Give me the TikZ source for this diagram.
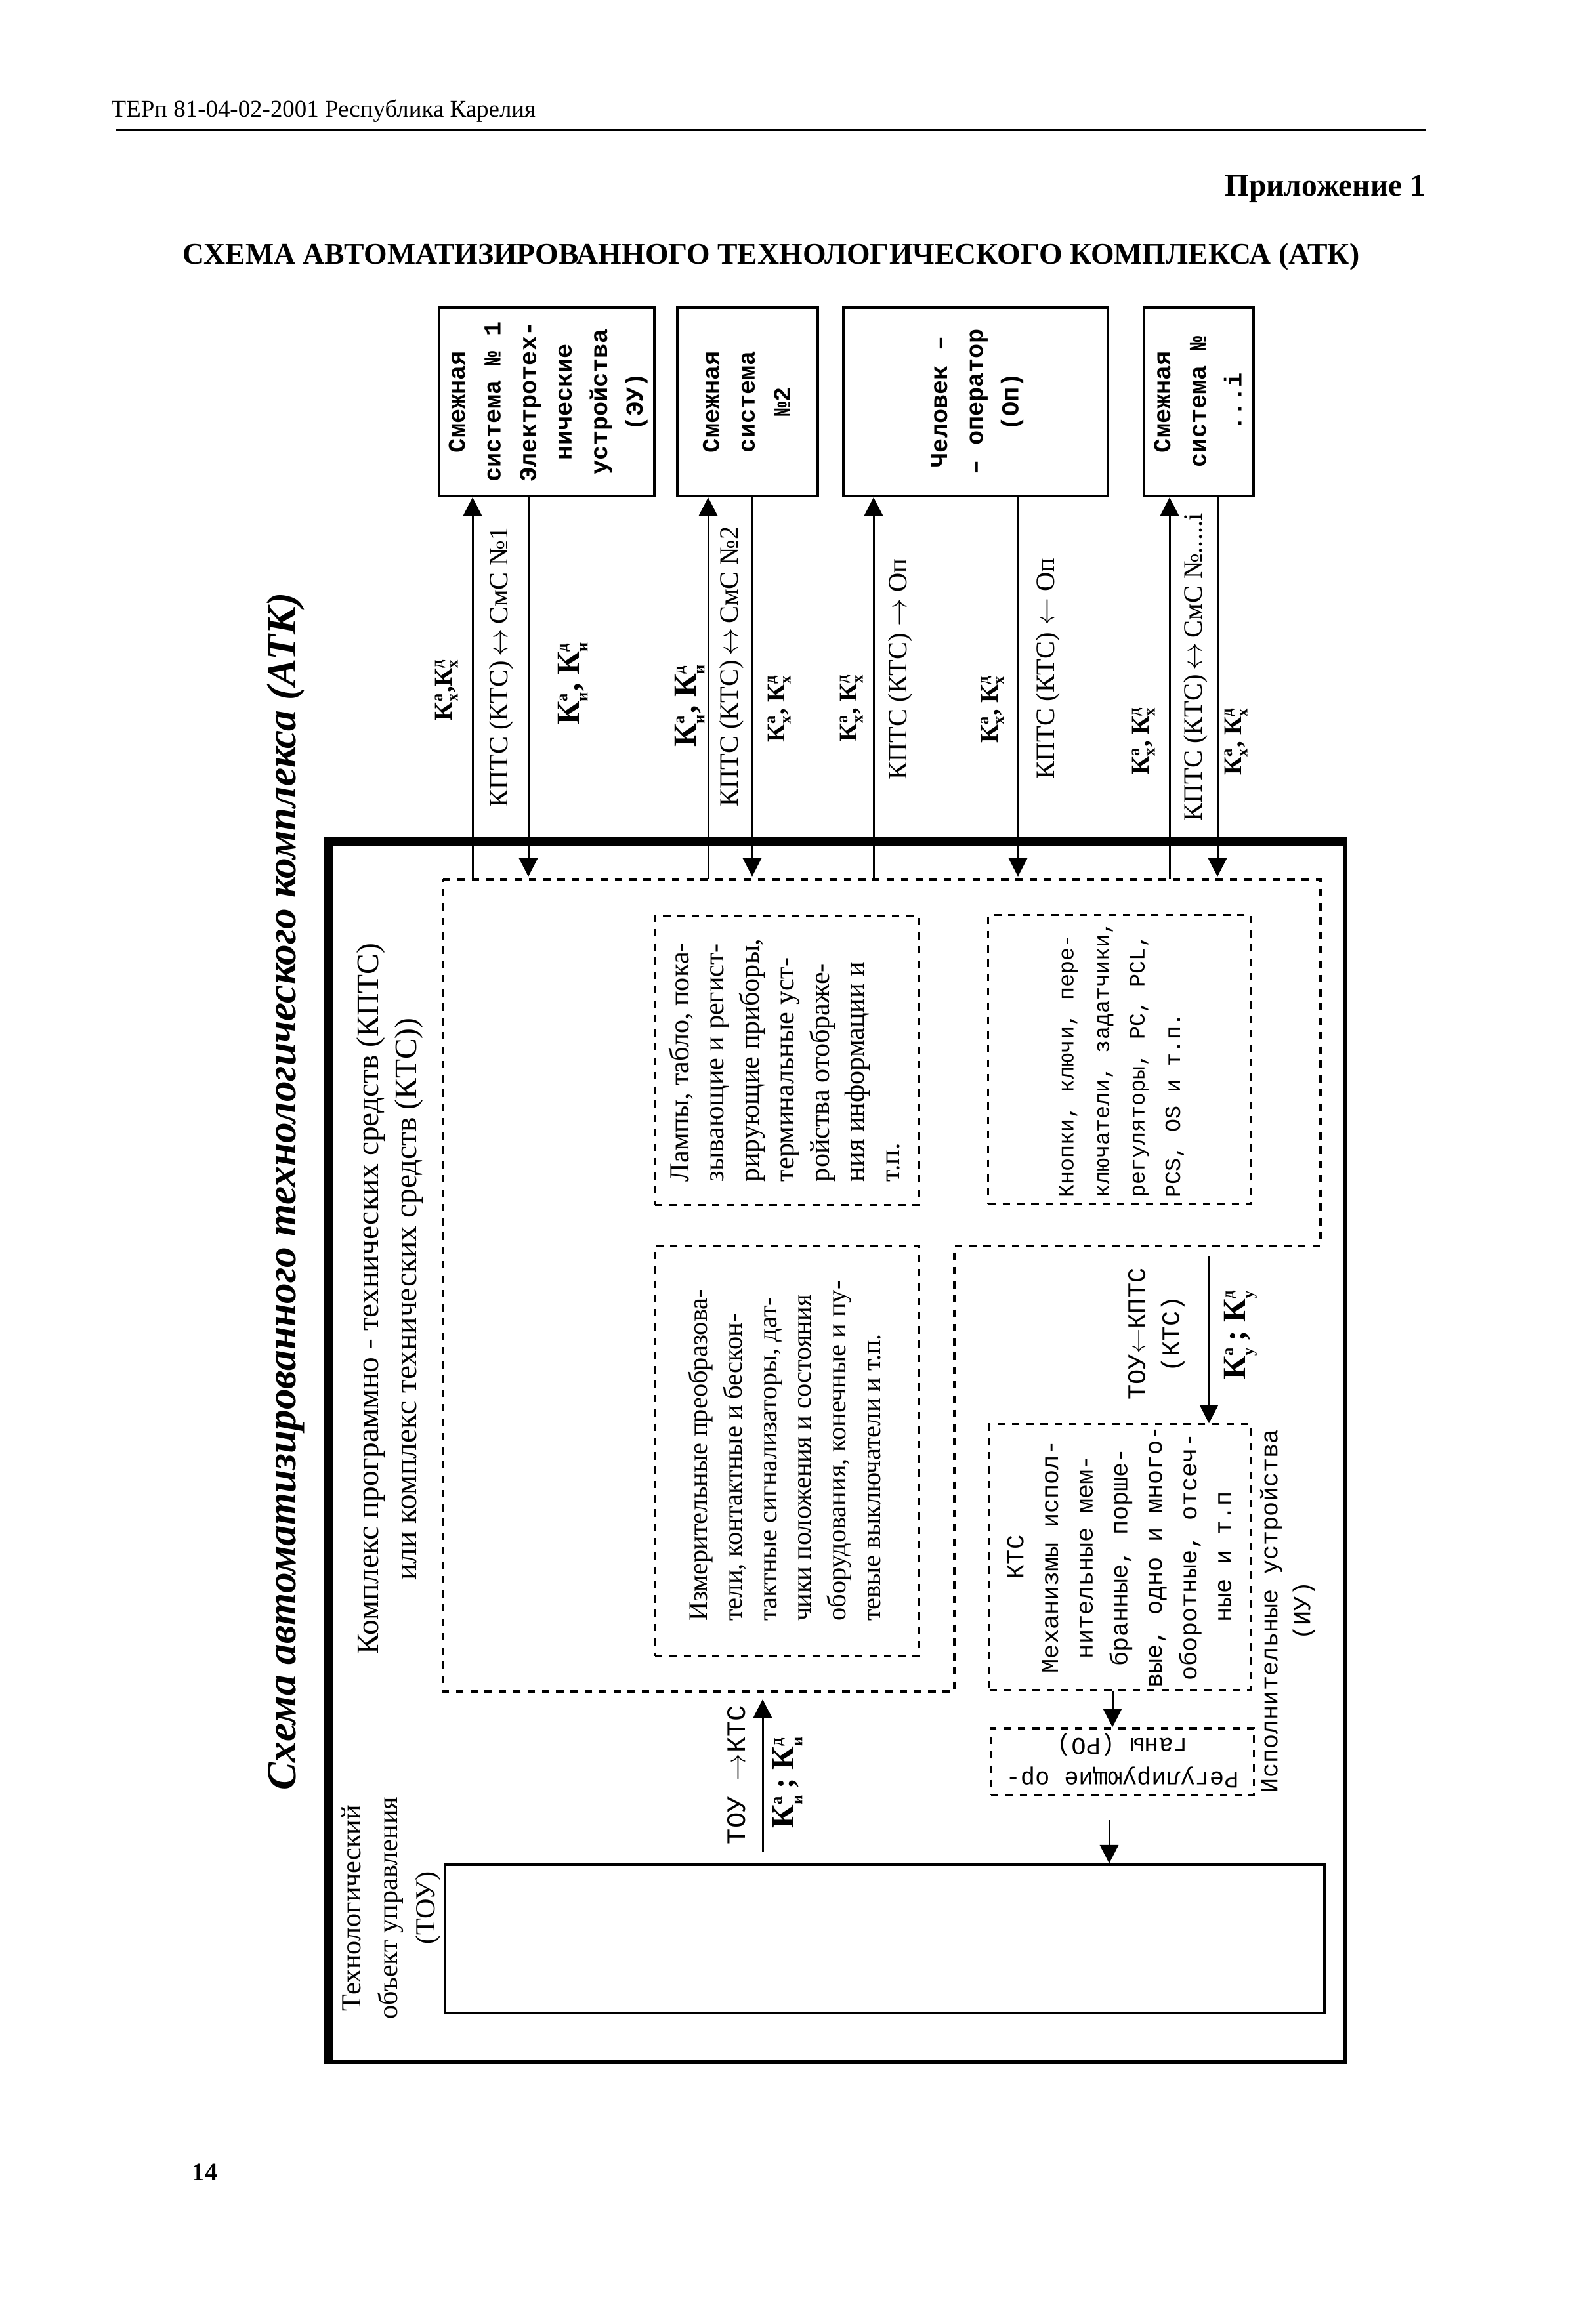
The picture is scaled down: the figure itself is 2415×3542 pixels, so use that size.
\documentclass[tikz,border=0pt]{standalone}
\usepackage{fontspec}
\setmainfont{Liberation Serif}
\setmonofont{Liberation Mono}
\usepackage{graphicx}
\usetikzlibrary{arrows.meta}

\newcommand{\fs}[2]{\fontsize{#1}{#2}\selectfont}
% channel symbol: K with upper and lower index
\newcommand{\kch}[2]{К$^{\mbox{\scriptsize #1}}_{\mbox{\scriptsize #2}}$}
% text block turned to read upwards
\newcommand{\vtab}[2]{\rotatebox{90}{\begin{tabular}{@{}#1@{}}#2\end{tabular}}}

\begin{document}
\begin{tikzpicture}[x=0.01cm, y=-0.01cm,
  smbox/.style={draw, line width=1.1pt, inner sep=0pt, minimum height=2.87cm, font=\ttfamily\bfseries\fs{10.5}{15.4}},
  dbox/.style={draw, line width=0.9pt, dash pattern=on 3.2pt off 3pt, inner sep=0pt},
  dline/.style={line width=0.9pt, dash pattern=on 3.2pt off 3pt},
  arr/.style={-{Triangle[length=8pt,width=8pt]}, line width=0.85pt},
  lab/.style={rotate=90, inner sep=0pt, font=\fs{11.5}{14}},
  mlab/.style={rotate=90, inner sep=0pt, align=center, font=\ttfamily\fs{11}{14.8}},
  kbig/.style={rotate=90, inner sep=0pt, font=\bfseries\fs{14}{16}},
  ksm/.style={rotate=90, inner sep=0pt, font=\bfseries\fs{11}{13}}]

\fill[white] (0,0) rectangle (2415,3542);
\useasboundingbox (0,0) rectangle (2415,3542);

% ---- page head
\node[anchor=base west, inner sep=0pt, font=\fs{10.5}{12}] (hdr) at (169,178) {ТЕРп 81-04-02-2001 Республика Карелия};
\draw[line width=0.8pt] (177,198) -- (2173,198);
\node[anchor=base east, inner sep=0pt, font=\bfseries\fs{13.5}{15}] (appx) at (2173,298) {Приложение 1};
\node[anchor=base, inner sep=0pt, font=\bfseries\fs{13}{15}] (head) at (1175,402)
  {СХЕМА АВТОМАТИЗИРОВАННОГО ТЕХНОЛОГИЧЕСКОГО КОМПЛЕКСА (АТК)};
\node[anchor=base west, inner sep=0pt, font=\bfseries\fs{11}{13}] (pg) at (292,3323) {14};

% ---- turned title
\node[rotate=90, inner sep=0pt, font=\bfseries\itshape\fs{18}{20}] (atktitle) at (435,1816)
  {Схема автоматизированного технологического комплекса (АТК)};

% ---- adjacent systems
\node[smbox, minimum width=3.28cm] (sm1) at (833,612.5)
  {\vtab{c}{Смежная\\система № 1\\Электротех-\\нические\\устройства\\(ЭУ)}};
\node[smbox, minimum width=2.14cm] (sm2) at (1139,612.5)
  {\vtab{c}{Смежная\\система\\№2}};
\node[smbox, minimum width=4.03cm] (sm3) at (1486.5,612.5)
  {\vtab{c}{Человек –\\– оператор\\(Оп)}};
\node[smbox, minimum width=1.67cm] (sm4) at (1826.5,612.5)
  {\vtab{c}{Смежная\\система №\\...i}};

% ---- ATK frame
\node[draw, line width=1.2pt, inner sep=0pt, minimum width=15.46cm, minimum height=18.57cm] (atk) at (1276,2213.5) {};
\draw[line width=3.8pt] (atk.south west) -- (atk.north west) -- (atk.north east);

% ---- KPTS region
\draw[dline] (675,1340) -- (2012,1340) -- (2012,1899) -- (1454,1899) -- (1454,2578) -- (675,2578) -- cycle;
\node[rotate=90, align=center, inner sep=0pt, font=\fs{13.5}{16.5}] (kptslab) at (594,1980)
  {Комплекс программно - технических средств (КПТС)\\или комплекс технических средств (КТС))};

\node[dbox, minimum width=4.02cm, minimum height=4.40cm, font=\fs{12}{15.2}] (lamp) at (1199,1616)
  {\vtab{l}{Лампы, табло, пока-\\зывающие и регист-\\рирующие приборы,\\терминальные уст-\\ройства отображе-\\ния информации и\\т.п.}};
\node[dbox, minimum width=4.02cm, minimum height=6.25cm, font=\fs{11.5}{15}] (izm) at (1199,2211.5)
  {\vtab{l}{Измерительные преобразова-\\тели, контактные и бескон-\\тактные сигнализаторы, дат-\\чики положения и состояния\\оборудования, конечные и пу-\\тевые выключатели и т.п.}};
\node[dbox, minimum width=4.00cm, minimum height=4.40cm, font=\ttfamily\fs{9.5}{15.4}] (knop) at (1706,1615)
  {\vtab{l}{Кнопки, ключи, пере-\\ключатели, задатчики,\\регуляторы, PC, PCL,\\PCS, OS и т.п.}};
\node[dbox, minimum width=3.98cm, minimum height=4.04cm, font=\ttfamily\fs{10.5}{15}] (ktc) at (1707,2373)
  {\vtab{c}{КТС\\Механизмы испол-\\нительные мем-\\бранные, порше-\\вые, одно и много-\\оборотные, отсеч-\\ные и т.п}};
\node[dbox, minimum width=4.00cm, minimum height=1.02cm, font=\ttfamily\fs{10.5}{14.5}] (ro) at (1710,2685)
  {\rotatebox{180}{\begin{tabular}{@{}c@{}}Регулирующие ор-\\ганы (РО)\end{tabular}}};
\node[mlab, font=\ttfamily\fs{10.5}{14.2}] (iulab) at (1962,2455) {Исполнительные устройства\\(ИУ)};

% ---- object
\node[draw, line width=1.1pt, inner sep=0pt, minimum width=13.40cm, minimum height=2.26cm] (tou) at (1348,2955) {};
\node[rotate=90, align=center, inner sep=0pt, font=\fs{12}{16}] (toulab) at (596,2908)
  {Технологический\\объект управления\\(ТОУ)};

% ---- links to adjacent systems
\coordinate (u1) at (720,1340);  \coordinate (d1) at (805,1336);
\coordinate (u2) at (1079,1340); \coordinate (d2) at (1146,1336);
\coordinate (u3) at (1331,1340); \coordinate (d3) at (1551,1336);
\coordinate (u4) at (1782,1340); \coordinate (d4) at (1855,1336);
\draw[arr] (u1) -- (u1 |- sm1.south);
\draw[arr] (d1 |- sm1.south) -- (d1);
\draw[arr] (u2) -- (u2 |- sm2.south);
\draw[arr] (d2 |- sm2.south) -- (d2);
\draw[arr] (u3) -- (u3 |- sm3.south);
\draw[arr] (d3 |- sm3.south) -- (d3);
\draw[arr] (u4) -- (u4 |- sm4.south);
\draw[arr] (d4 |- sm4.south) -- (d4);

\node[ksm] (ka1) at (680,1051) {\kch{а}{х},\kch{д}{х}};
\node[lab] (lab1) at (764,1017) {КПТС (КТС)\,$\leftrightarrow$\,СмС №1};
\node[kbig] (kb1) at (873,1041) {\kch{а}{и}, \kch{д}{и}};
\node[kbig] (kb2) at (1051,1075) {\kch{а}{и}, \kch{д}{и}};
\node[lab] (lab2) at (1115,1016) {КПТС (КТС)\,$\leftrightarrow$\,СмС №2};
\node[ksm] (ka2) at (1187,1080) {\kch{а}{х}, \kch{д}{х}};
\node[ksm] (ka3) at (1297,1079) {\kch{а}{х}, \kch{д}{х}};
\node[lab] (lab3) at (1372,1020) {КПТС (КТС) $\rightarrow$ Оп};
\node[ksm] (ka4) at (1512,1081) {\kch{а}{х}, \kch{д}{х}};
\node[lab] (lab4) at (1597,1019) {КПТС (КТС) $\leftarrow$ Оп};
\node[ksm] (ka5) at (1742,1129) {\kch{а}{х}, \kch{д}{х}};
\node[lab] (lab5) at (1822,1017) {КПТС (КТС)\,$\leftrightarrow$\,СмС №.....i};
\node[ksm] (ka6) at (1883,1130) {\kch{а}{х}, \kch{д}{х}};

% ---- links inside the complex
\coordinate (tk) at (1162,2590);
\draw[arr, shorten <=0.17cm] (tou.north -| tk) -- (tk);
\node[rotate=90, inner sep=0pt, font=\ttfamily\fs{11.5}{14}] (toukts) at (1122,2705) {ТОУ $\rightarrow$КТС};
\node[kbig] (ki) at (1200,2716) {\kch{а}{и}\,; \kch{д}{и}};

\coordinate (tu) at (1842,1915);
\draw[arr] (tu) -- (tu |- ktc.north);
\node[mlab] (toukpts) at (1762,2033) {ТОУ$\leftarrow$КПТС\\(КТС)};
\node[kbig] (ku) at (1890,2034) {\kch{а}{у}\,; \kch{д}{у}};

\coordinate (r1) at (1695,2600);
\coordinate (r2) at (1690,2800);
\draw[arr] (ktc.south -| r1) -- (ro.north -| r1);
\draw[arr, shorten <=0.36cm] (ro.south -| r2) -- (tou.north -| r2);
\end{tikzpicture}
\end{document}
